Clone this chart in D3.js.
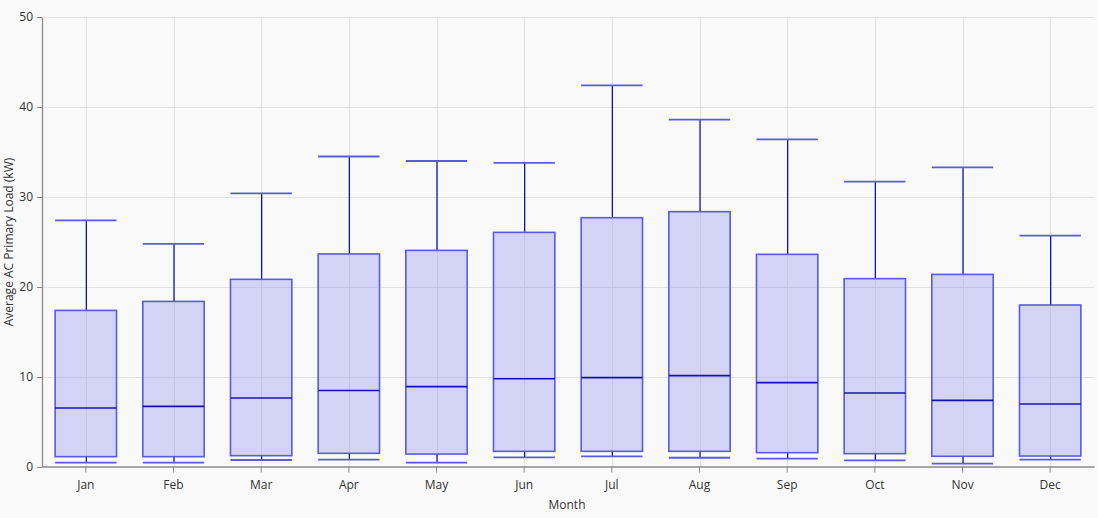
<!DOCTYPE html>
<html><head><meta charset="utf-8">
<script src="https://cdn.jsdelivr.net/npm/d3@7"></script>
<style>
html,body{margin:0;padding:0;background:#f9f9f9;}
svg{display:block;font-family:"Open Sans","Noto Sans",sans-serif;}
</style></head>
<body><svg id="c" width="1098" height="518"></svg>
<script>
const months = ["Jan","Feb","Mar","Apr","May","Jun","Jul","Aug","Sep","Oct","Nov","Dec"];
const whiskerHigh = [27.4,24.8,30.4,34.5,34.0,33.8,42.4,38.6,36.4,31.7,33.3,25.7];
const q3 = [17.4,18.4,20.85,23.67,24.07,26.07,27.7,28.37,23.63,20.93,21.4,18.0];
const median = [6.55,6.74,7.67,8.5,8.93,9.8,9.93,10.15,9.37,8.22,7.4,7.0];
const q1 = [1.15,1.15,1.26,1.52,1.44,1.74,1.74,1.74,1.59,1.48,1.19,1.22];
const whiskerLow = [0.48,0.48,0.78,0.82,0.48,1.07,1.18,1.03,0.92,0.74,0.37,0.81];
const yTicks = [0,10,20,30,40,50];

(function(){
const svg = d3.select("#c");
const pLeft = 42, pRight = 1094, pTop = 17, pBottom = 467;
const x = d3.scaleBand().domain(months).range([pLeft, pRight]).paddingInner(0).paddingOuter(0);
const y = d3.scaleLinear().domain([0,50]).range([pBottom, pTop]);

// gridlines
const g = svg.append("g");
g.selectAll("line.h").data(yTicks.filter(d=>d>0)).enter().append("line")
  .attr("x1", pLeft).attr("x2", pRight).attr("y1", d=>y(d)+0.5).attr("y2", d=>y(d)+0.5)
  .attr("stroke","#e2e2e2").attr("stroke-width",1);
g.selectAll("line.v").data(months).enter().append("line")
  .attr("x1", d=>Math.round(x(d)+x.bandwidth()/2)+0.5).attr("x2", d=>Math.round(x(d)+x.bandwidth()/2)+0.5)
  .attr("y1", pTop).attr("y2", pBottom)
  .attr("stroke","#e2e2e2").attr("stroke-width",1);

const data = months.map((m,i)=>({m, hi:whiskerHigh[i], q3:q3[i], med:median[i], q1:q1[i], lo:whiskerLow[i]}));
const bw = x.bandwidth()*0.7;
const boxes = svg.append("g").selectAll("g").data(data).enter().append("g")
  .attr("transform", d=>`translate(${x(d.m)+x.bandwidth()/2},0)`);

boxes.append("line").attr("x1",0.5).attr("x2",0.5).attr("y1",d=>y(d.hi)).attr("y2",d=>y(d.q3))
  .attr("stroke","#0000b4").attr("stroke-width",1.2);
boxes.append("line").attr("x1",0.5).attr("x2",0.5).attr("y1",d=>y(d.q1)).attr("y2",d=>y(d.lo))
  .attr("stroke","#0000b4").attr("stroke-width",1.2);
boxes.append("rect").attr("x",-bw/2).attr("width",bw)
  .attr("y",d=>y(d.q3)).attr("height",d=>y(d.q1)-y(d.q3))
  .attr("fill","rgba(110,110,235,0.27)").attr("stroke","#5a5ae4").attr("stroke-width",1.6);
boxes.append("line").attr("x1",-bw/2).attr("x2",bw/2).attr("y1",d=>y(d.med)).attr("y2",d=>y(d.med))
  .attr("stroke","#1414b4").attr("stroke-width",1.6);
boxes.append("line").attr("x1",-bw/2).attr("x2",bw/2).attr("y1",d=>y(d.hi)).attr("y2",d=>y(d.hi))
  .attr("stroke","#5a5ae4").attr("stroke-width",1.8);
boxes.append("line").attr("x1",-bw/2).attr("x2",bw/2).attr("y1",d=>y(d.lo)).attr("y2",d=>y(d.lo))
  .attr("stroke","#5a5ae4").attr("stroke-width",1.8);

// axes
const xAxis = svg.append("g").attr("transform",`translate(0,${pBottom-0.5})`)
  .call(d3.axisBottom(x).tickSizeInner(6).tickSizeOuter(0).tickPadding(8));
const yAxis = svg.append("g").attr("transform",`translate(${pLeft},0)`)
  .call(d3.axisLeft(y).tickValues(yTicks).tickSizeInner(5).tickSizeOuter(0).tickPadding(4));
[xAxis,yAxis].forEach(a=>{
  a.select(".domain").attr("stroke","#8a8a8a").attr("stroke-width",1.3);
  a.selectAll(".tick line").attr("stroke","#8a8a8a");
  a.selectAll(".tick text").attr("fill","#333").attr("font-size",12)
   .attr("font-family",'"Open Sans","Noto Sans",sans-serif');
});

svg.append("text").attr("x",567).attr("y",509).attr("text-anchor","middle")
  .attr("font-size",12).attr("fill","#333").text("Month");
svg.append("text").attr("transform","translate(13,242) rotate(-90)").attr("text-anchor","middle")
  .attr("font-size",12).attr("fill","#333").text("Average AC Primary Load (kW)");
})();
</script></body></html>
